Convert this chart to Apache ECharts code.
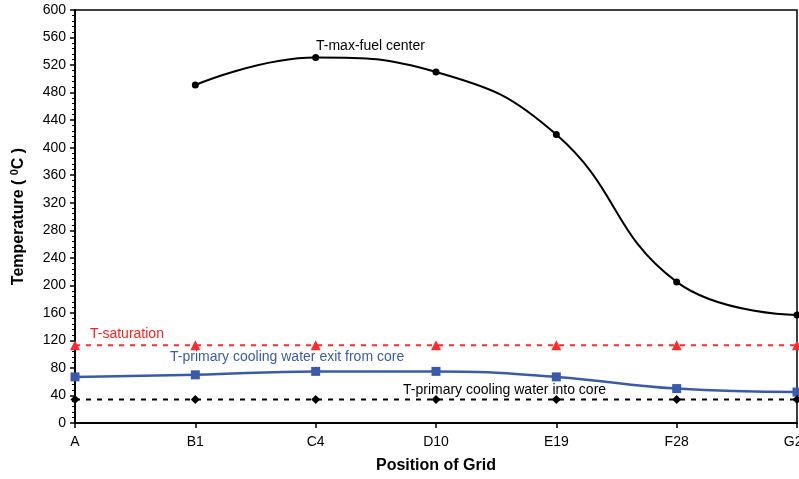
<!DOCTYPE html>
<html><head><meta charset="utf-8">
<script src="https://cdn.jsdelivr.net/npm/echarts@6/dist/echarts.min.js"></script>
<style>html,body{margin:0;padding:0;background:#fff}#c{width:799px;height:479px}</style>
</head><body><div id="c"></div>
<script>
const categories = ['A','B1','C4','D10','E19','F28','G23'];
const tMaxFuel = [null, 491, 531, 510, 419, 205, 157];
const tSaturation = [113, 113, 113, 113, 113, 113, 113];
const tExit = [67, 70, 75, 75, 67, 50, 45];
const tInto = [34, 34, 34, 34, 34, 34, 34];
const yTicks = [0, 600, 40];

const chart = echarts.init(document.getElementById('c'), null, {renderer:'canvas'});
const F = 'Liberation Sans, Arial, sans-serif';
chart.setOption({
  animation:false,
  backgroundColor:'#fff',
  grid:{left:75,right:2,top:10,bottom:56,outerBoundsMode:'none',containLabel:false,
    show:true,borderColor:'#000',borderWidth:1.5,backgroundColor:'transparent'},
  xAxis:{type:'category',data:categories,boundaryGap:false,
    axisLine:{lineStyle:{color:'#000',width:2}},
    axisTick:{show:true,length:5,lineStyle:{color:'#000',width:1.5}},
    axisLabel:{color:'#000',fontFamily:F,fontSize:14,margin:12},
    name:'Position of Grid',nameLocation:'middle',nameGap:35,
    nameTextStyle:{color:'#000',fontFamily:F,fontSize:16,fontWeight:'bold'},
    splitLine:{show:false}},
  yAxis:{type:'value',min:yTicks[0],max:yTicks[1],interval:yTicks[2],
    axisLine:{show:true,lineStyle:{color:'#000',width:2}},
    axisTick:{show:true,length:5,lineStyle:{color:'#000',width:1.5}},
    minorTick:{show:true,splitNumber:5,length:3,lineStyle:{color:'#000',width:1}},
    axisLabel:{color:'#000',fontFamily:F,fontSize:14,margin:9},
    splitLine:{show:false},
    name:'Temperature ( {sup|0}C )',nameLocation:'middle',nameGap:46,
    nameTextStyle:{color:'#000',fontFamily:F,fontSize:16,fontWeight:'bold',
      rich:{sup:{fontSize:11,fontWeight:'bold',fontFamily:F,color:'#000',verticalAlign:'bottom',padding:[0,0,9,0]}}}},
  series:[
    {name:'T-max-fuel center',type:'line',data:tMaxFuel,smooth:0.45,connectNulls:false,
      lineStyle:{color:'#000',width:2},itemStyle:{color:'#000'},symbol:'circle',symbolSize:7,z:5},
    {name:'T-saturation',type:'line',data:tSaturation,
      lineStyle:{color:'#ff2a2a',width:2,type:[5,6]},itemStyle:{color:'#ff2a2a'},symbol:'triangle',symbolSize:10},
    {name:'T-primary cooling water exit from core',type:'line',data:tExit,smooth:0.45,
      lineStyle:{color:'#3a5bab',width:2.5},itemStyle:{color:'#3a5bab'},symbol:'rect',symbolSize:9},
    {name:'T-primary cooling water into core',type:'line',data:tInto,
      lineStyle:{color:'#000',width:2,type:[5,6]},itemStyle:{color:'#000'},symbol:'diamond',symbolSize:9}
  ],
  graphic:[
    {type:'text',left:316,top:39,style:{text:'T-max-fuel center',fill:'#000',font:'14px '+F}},
    {type:'text',left:90,top:327,style:{text:'T-saturation',fill:'#ff2020',font:'14px '+F}},
    {type:'text',left:170,top:350,style:{text:'T-primary cooling water exit from core',fill:'#3a5bab',font:'14px '+F}},
    {type:'text',left:403,top:383,style:{text:'T-primary cooling water into core',fill:'#000',font:'14px '+F}}
  ]
});
</script></body></html>
